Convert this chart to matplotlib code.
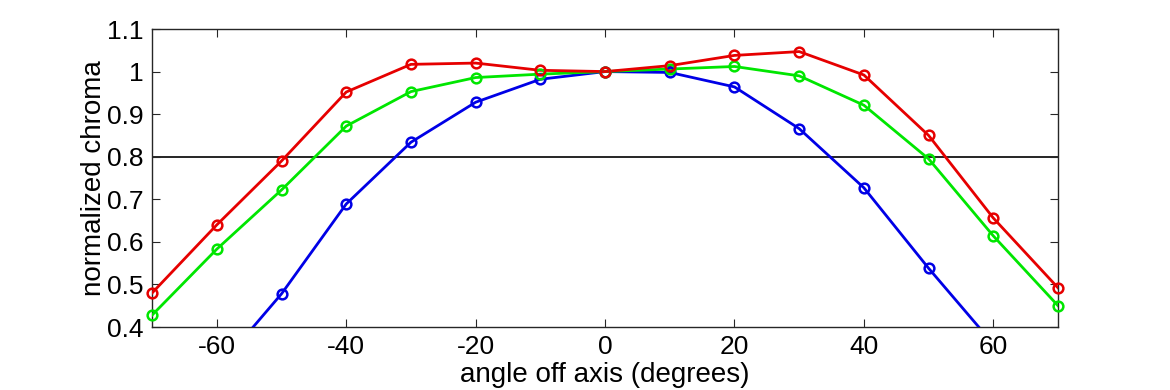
import matplotlib
matplotlib.use('Agg')
import matplotlib.pyplot as plt

plt.rcParams['font.family'] = ['Liberation Sans Narrow', 'Liberation Sans', 'DejaVu Sans']
plt.rcParams['axes.unicode_minus'] = False

angles = [-70, -60, -50, -40, -30, -20, -10, 0, 10, 20, 30, 40, 50, 60, 70]
red = [0.48, 0.64, 0.79, 0.952, 1.017, 1.02, 1.003, 1.0, 1.014, 1.038, 1.047, 0.992, 0.85, 0.656, 0.492]
green = [0.428, 0.583, 0.722, 0.872, 0.953, 0.986, 0.994, 1.0, 1.006, 1.012, 0.99, 0.921, 0.795, 0.614, 0.45]
blue = [0.15, 0.30, 0.478, 0.689, 0.834, 0.928, 0.982, 1.0, 0.998, 0.964, 0.866, 0.727, 0.538, 0.36, 0.2]
threshold = 0.8
ymin, ymax = 0.4, 1.1

fig = plt.figure(figsize=(11.7, 3.9), dpi=100)
ax = fig.add_axes([0.13, 0.1615, 0.7743, 0.7641])

ax.axhline(threshold, color='black', lw=1.2, zorder=1)
for vals, c in [(blue, '#0000e6'), (green, '#00e600'), (red, '#e60000')]:
    ax.plot(angles, vals, color=c, lw=2, zorder=3)
    # markers are not clipped at the axes edge, like matlab
    pts = [(a, v) for a, v in zip(angles, vals) if ymin <= v <= ymax]
    ax.plot([p[0] for p in pts], [p[1] for p in pts], ls='none', marker='o', ms=7,
            mfc='none', mec=c, mew=1.8, zorder=4, clip_on=False)

ax.set_xlim(-70, 70)
ax.set_ylim(ymin, ymax)
ax.set_xticks([-60, -40, -20, 0, 20, 40, 60])
ax.set_yticks([0.4, 0.5, 0.6, 0.7, 0.8, 0.9, 1.0, 1.1])
ax.set_yticklabels(['0.4', '0.5', '0.6', '0.7', '0.8', '0.9', '1', '1.1'])
ax.tick_params(direction='in', top=True, right=True, labelsize=19, length=6, color='#262626', pad=6)
for s in ax.spines.values():
    s.set_color('#262626')
    s.set_linewidth(1)

ax.set_xlabel('angle off axis (degrees)', fontsize=20, labelpad=2)
ax.set_ylabel('normalized chroma', fontsize=20, labelpad=0)

fig.savefig('out.png', dpi=100)
